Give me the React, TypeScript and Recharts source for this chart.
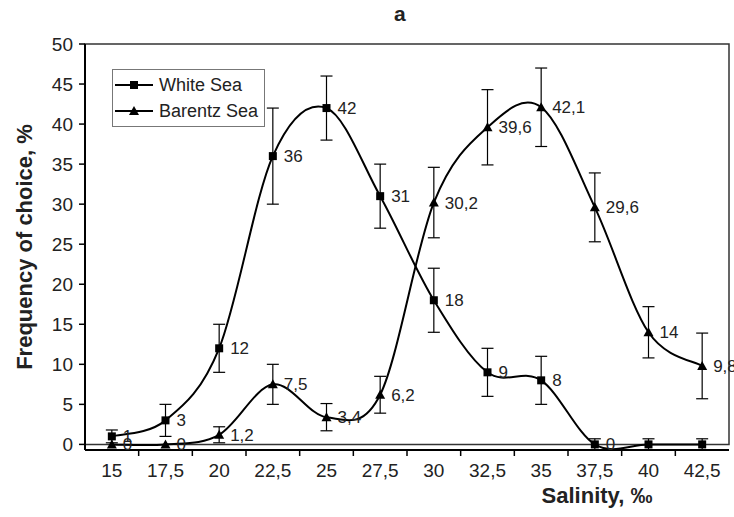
import {
  ErrorBar,
  LabelList,
  Legend,
  Line,
  LineChart,
  ReferenceArea,
  XAxis,
  YAxis,
} from "recharts";

const salinity = ["15", "17,5", "20", "22,5", "25", "27,5", "30", "32,5", "35", "37,5", "40", "42,5"];
const whiteSea = [1, 3, 12, 36, 42, 31, 18, 9, 8, 0, 0, 0];
const whiteSeaErr = [0.8, 2, 3, 6, 4, 4, 4, 3, 3, 0.7, 0.7, 0.7];
const whiteSeaLabels = ["1", "3", "12", "36", "42", "31", "18", "9", "8", "0", "", ""];
const barentsSea = [0, 0, 1.2, 7.5, 3.4, 6.2, 30.2, 39.6, 42.1, 29.6, 14, 9.8];
const barentsSeaErr = [0, 0, 1, 2.5, 1.7, 2.3, 4.4, 4.7, 4.9, 4.3, 3.2, 4.1];
const barentsSeaLabels = ["0", "0", "1,2", "7,5", "3,4", "6,2", "30,2", "39,6", "42,1", "29,6", "14", "9,8"];
const yTicks = [0, 5, 10, 15, 20, 25, 30, 35, 40, 45, 50];

const data = salinity.map((s, i) => ({
  x: i,
  salinity: s,
  white: whiteSea[i],
  whiteErr: whiteSeaErr[i],
  whiteLabel: whiteSeaLabels[i],
  barents: barentsSea[i],
  barentsErr: barentsSeaErr[i],
  barentsLabel: barentsSeaLabels[i],
}));

const W = 734;
const H = 517;
const Y_AXIS_W = 85;
const RIGHT = 5;
const BAND = (W - Y_AXIS_W - RIGHT) / salinity.length;
const FONT = "'Liberation Sans', Arial, sans-serif";

// Excel-style smoothing (Catmull-Rom through the points)
const smooth = (context: any) => {
  let pts: number[][] = [];
  return {
    areaStart() {},
    areaEnd() {},
    lineStart() {
      pts = [];
    },
    point(x: number, y: number) {
      pts.push([+x, +y]);
    },
    lineEnd() {
      const n = pts.length;
      if (!n) return;
      context.moveTo(pts[0][0], pts[0][1]);
      for (let i = 0; i < n - 1; i++) {
        const p0 = pts[i - 1] || pts[i];
        const p1 = pts[i];
        const p2 = pts[i + 1];
        const p3 = pts[i + 2] || p2;
        context.bezierCurveTo(
          p1[0] + (p2[0] - p0[0]) / 6,
          p1[1] + (p2[1] - p0[1]) / 6,
          p2[0] - (p3[0] - p1[0]) / 6,
          p2[1] - (p3[1] - p1[1]) / 6,
          p2[0],
          p2[1]
        );
      }
    },
  };
};

const Square = ({ cx, cy }: any) =>
  cx == null ? null : <rect x={cx - 4} y={cy - 4} width={8} height={8} fill="#000" />;

const Triangle = ({ cx, cy }: any) =>
  cx == null ? null : (
    <polygon points={`${cx},${cy - 5} ${cx - 5},${cy + 4} ${cx + 5},${cy + 4}`} fill="#000" />
  );

const PointLabel = ({ x, y, value }: any) =>
  value ? (
    <text x={x + 11} y={y} dy="0.35em" fontSize={17} fontFamily={FONT} fill="#222">
      {value}
    </text>
  ) : null;

const SalinityTick = ({ x, y, payload, index }: any) => (
  <g>
    {index < salinity.length - 1 && (
      <line x1={x + BAND / 2} x2={x + BAND / 2} y1={y} y2={y + 6} stroke="#000" strokeWidth={1.5} />
    )}
    <text x={x} y={y + 27} textAnchor="middle" fontSize={19} fontFamily={FONT} fill="#222">
      {salinity[payload.value]}
    </text>
  </g>
);

function LegendBox() {
  const rows = [
    { name: "White Sea", Marker: Square },
    { name: "Barentz Sea", Marker: Triangle },
  ];
  return (
    <div
      style={{
        border: "1.5px solid #777",
        background: "#fff",
        width: 151,
        padding: "2px 0",
        fontFamily: FONT,
        fontSize: 18,
        color: "#222",
      }}
    >
      {rows.map(({ name, Marker }) => (
        <div key={name} style={{ display: "flex", alignItems: "center", height: 26 }}>
          <svg width={44} height={14}>
            <line x1={2} x2={40} y1={7} y2={7} stroke="#000" strokeWidth={2} />
            <Marker cx={21} cy={7} />
          </svg>
          <span style={{ marginLeft: 2 }}>{name}</span>
        </div>
      ))}
    </div>
  );
}

export default function App() {
  return (
    <div style={{ position: "absolute", left: 0, top: 0, width: W, height: H, background: "#fff" }}>
      <div
        style={{
          position: "absolute",
          left: 394,
          top: 2,
          fontFamily: FONT,
          fontWeight: "bold",
          fontSize: 21,
          color: "#222",
        }}
      >
        a
      </div>
      <LineChart width={W} height={H} data={data} margin={{ top: 44, right: RIGHT, left: 0, bottom: 0 }}>
        <ReferenceArea x1={-0.5} x2={11.5} y1={0} y2={50} fill="none" stroke="#333" strokeWidth={1.5} />
        <XAxis
          dataKey="x"
          type="number"
          domain={[-0.5, 11.5]}
          ticks={data.map((d) => d.x)}
          interval={0}
          height={67}
          tickSize={0}
          tickMargin={0}
          tickLine={false}
          axisLine={{ stroke: "#000", strokeWidth: 2 }}
          tick={<SalinityTick />}
          label={{
            value: "Salinity, ‰",
            position: "insideBottom",
            dx: 190,
            offset: 14,
            style: { fontFamily: FONT, fontSize: 22, fontWeight: "bold", fill: "#222" },
          }}
        />
        <YAxis
          type="number"
          domain={[0, 50]}
          ticks={yTicks}
          width={Y_AXIS_W}
          tickSize={6}
          tickMargin={6}
          tickLine={{ stroke: "#000", strokeWidth: 1.5 }}
          axisLine={{ stroke: "#000", strokeWidth: 2 }}
          tick={{ fontFamily: FONT, fontSize: 19, fill: "#222" }}
          label={{
            value: "Frequency of choice, %",
            angle: -90,
            position: "insideLeft",
            offset: 24,
            style: { textAnchor: "middle", fontFamily: FONT, fontSize: 22, fontWeight: "bold", fill: "#222" },
          }}
        />
        <Legend
          layout="horizontal"
          verticalAlign="middle"
          align="center"
          content={<LegendBox />}
          wrapperStyle={{ position: "absolute", left: 112, top: 69, width: "auto" }}
        />
        <Line
          dataKey="white"
          name="White Sea"
          type={smooth as any}
          stroke="#000"
          strokeWidth={2}
          dot={<Square />}
          activeDot={false}
          isAnimationActive={false}
        >
          <ErrorBar dataKey="whiteErr" width={6} stroke="#000" strokeWidth={1.2} />
          <LabelList dataKey="whiteLabel" content={<PointLabel />} />
        </Line>
        <Line
          dataKey="barents"
          name="Barentz Sea"
          type={smooth as any}
          stroke="#000"
          strokeWidth={2}
          dot={<Triangle />}
          activeDot={false}
          isAnimationActive={false}
        >
          <ErrorBar dataKey="barentsErr" width={6} stroke="#000" strokeWidth={1.2} />
          <LabelList dataKey="barentsLabel" content={<PointLabel />} />
        </Line>
      </LineChart>
    </div>
  );
}
